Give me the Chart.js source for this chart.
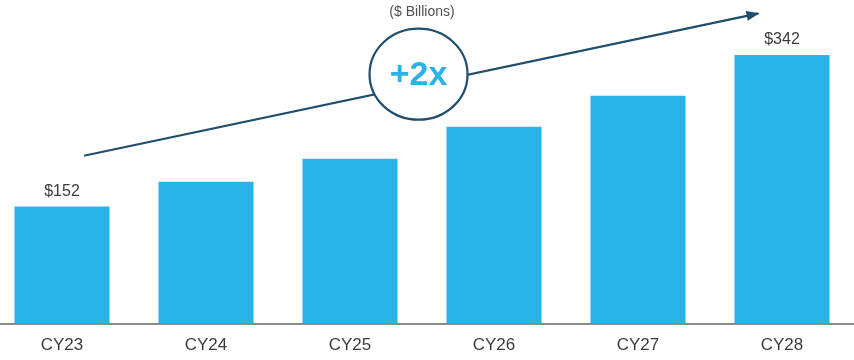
<!DOCTYPE html>
<html>
<head>
<meta charset="utf-8">
<script src="https://cdn.jsdelivr.net/npm/chart.js@4/dist/chart.umd.min.js"></script>
<style>
  html, body { margin: 0; padding: 0; background: #ffffff; }
  #wrap { position: relative; width: 854px; height: 360px; overflow: hidden; background: #fff; }
  #box { position: absolute; left: -10px; top: 0; width: 864px; height: 368px; }
</style>
</head>
<body>
<div id="wrap"><div id="box"><canvas id="c"></canvas></div></div>
<script>
// ---- data ----
const categories = ["CY23", "CY24", "CY25", "CY26", "CY27", "CY28"];
const revenue = [152, 183, 212, 252, 291, 342];
const labelledIdx = [0, 5];
const unitTitle = "($ Billions)";
const growthText = "+2x";

const BAR = "#2ab3e7";
const LINE = "#1e4d6d";
const TEXT = "#3c3c3c";

const overlay = {
  id: "overlay",
  afterDatasetsDraw(chart) {
    const ctx = chart.ctx;
    const xs = chart.scales.x, ys = chart.scales.y;
    const area = chart.chartArea;
    // baseline
    ctx.save();
    ctx.strokeStyle = "#8a8a8a";
    ctx.lineWidth = 2;
    ctx.beginPath();
    ctx.moveTo(0, area.bottom + 0.5);
    ctx.lineTo(chart.width, area.bottom + 0.5);
    ctx.stroke();

    // value labels
    const meta = chart.getDatasetMeta(0);
    ctx.fillStyle = TEXT;
    ctx.font = "16px 'Liberation Sans', Arial, sans-serif";
    ctx.textAlign = "center";
    ctx.textBaseline = "middle";
    labelledIdx.forEach(i => {
      const el = meta.data[i];
      ctx.fillText("$" + revenue[i], el.x, el.y - 15);
    });

    // growth arrow (positioned in scale units)
    const x0 = xs.getPixelForValue(0.16), y0 = ys.getPixelForValue(216);
    const x1 = xs.getPixelForValue(4.83), y1 = ys.getPixelForValue(394);
    ctx.strokeStyle = LINE;
    ctx.fillStyle = LINE;
    ctx.lineWidth = 2.2;
    ctx.lineCap = "round";
    ctx.beginPath();
    ctx.moveTo(x0, y0);
    ctx.lineTo(x1, y1);
    ctx.stroke();
    const ang = Math.atan2(y1 - y0, x1 - x0);
    const hl = 11, hw = 5;
    ctx.beginPath();
    ctx.moveTo(x1 + 2 * Math.cos(ang), y1 + 2 * Math.sin(ang));
    ctx.lineTo(x1 - hl * Math.cos(ang) + hw * Math.sin(ang), y1 - hl * Math.sin(ang) - hw * Math.cos(ang));
    ctx.lineTo(x1 - hl * Math.cos(ang) - hw * Math.sin(ang), y1 - hl * Math.sin(ang) + hw * Math.cos(ang));
    ctx.closePath();
    ctx.fill();

    // circle badge
    const cx = xs.getPixelForValue(2.476), cy = ys.getPixelForValue(318);
    ctx.beginPath();
    ctx.ellipse(cx, cy, 49, 45.5, 0, 0, Math.PI * 2);
    ctx.fillStyle = "#ffffff";
    ctx.fill();
    ctx.lineWidth = 2.2;
    ctx.strokeStyle = LINE;
    ctx.stroke();
    ctx.fillStyle = BAR;
    ctx.font = "bold 34px 'Liberation Sans', Arial, sans-serif";
    ctx.textAlign = "center";
    ctx.textBaseline = "middle";
    ctx.fillText(growthText, cx, cy + 1);
    ctx.restore();
  }
};

new Chart(document.getElementById("c"), {
  type: "bar",
  data: {
    labels: categories,
    datasets: [{
      data: revenue,
      backgroundColor: BAR,
      borderWidth: 0,
      categoryPercentage: 1.0,
      barPercentage: 0.66
    }]
  },
  options: {
    responsive: true,
    maintainAspectRatio: false,
    animation: false,
    layout: { padding: 0 },
    plugins: {
      legend: { display: false },
      tooltip: { enabled: false },
      title: {
        display: true,
        text: unitTitle,
        color: "#505050",
        font: { family: "'Liberation Sans', Arial, sans-serif", size: 14, weight: "normal" },
        padding: { top: 4, bottom: 0 }
      }
    },
    scales: {
      x: {
        offset: true,
        grid: { display: false, drawTicks: false },
        border: { display: false },
        ticks: {
          color: TEXT,
          padding: 12,
          font: { family: "'Liberation Sans', Arial, sans-serif", size: 17 }
        }
      },
      y: {
        display: false,
        min: 5,
        max: 385
      }
    }
  },
  plugins: [overlay]
});
</script>
</body>
</html>
